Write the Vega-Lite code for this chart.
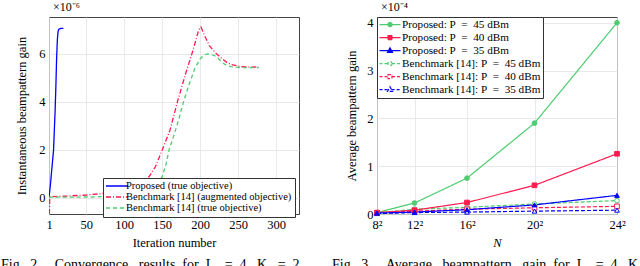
{
  "$schema": "https://vega.github.io/schema/vega-lite/v6.json",
  "padding": {"left": 0, "top": 0, "right": 0, "bottom": 0},
  "spacing": 30,
  "datasets": {
    "conv": [
      {"i": 1, "v": 0.0, "s": "Proposed (true objective)"},
      {"i": 3, "v": 0.6, "s": "Proposed (true objective)"},
      {"i": 5, "v": 1.3, "s": "Proposed (true objective)"},
      {"i": 7, "v": 2.0, "s": "Proposed (true objective)"},
      {"i": 9, "v": 3.6, "s": "Proposed (true objective)"},
      {"i": 10, "v": 4.6, "s": "Proposed (true objective)"},
      {"i": 11, "v": 5.8, "s": "Proposed (true objective)"},
      {"i": 12, "v": 6.6, "s": "Proposed (true objective)"},
      {"i": 13, "v": 6.95, "s": "Proposed (true objective)"},
      {"i": 14, "v": 7.03, "s": "Proposed (true objective)"},
      {"i": 16, "v": 7.06, "s": "Proposed (true objective)"},
      {"i": 20, "v": 7.07, "s": "Proposed (true objective)"},
      {"i": 1, "v": -1.5, "s": "Benchmark [14] (augmented objective)"},
      {"i": 2, "v": 0.05, "s": "Benchmark [14] (augmented objective)"},
      {"i": 20, "v": 0.07, "s": "Benchmark [14] (augmented objective)"},
      {"i": 50, "v": 0.12, "s": "Benchmark [14] (augmented objective)"},
      {"i": 70, "v": 0.18, "s": "Benchmark [14] (augmented objective)"},
      {"i": 100, "v": 0.3, "s": "Benchmark [14] (augmented objective)"},
      {"i": 115, "v": 0.45, "s": "Benchmark [14] (augmented objective)"},
      {"i": 125, "v": 0.65, "s": "Benchmark [14] (augmented objective)"},
      {"i": 133, "v": 0.9, "s": "Benchmark [14] (augmented objective)"},
      {"i": 141, "v": 1.3, "s": "Benchmark [14] (augmented objective)"},
      {"i": 150, "v": 2.0, "s": "Benchmark [14] (augmented objective)"},
      {"i": 160, "v": 2.8, "s": "Benchmark [14] (augmented objective)"},
      {"i": 170, "v": 4.0, "s": "Benchmark [14] (augmented objective)"},
      {"i": 180, "v": 5.1, "s": "Benchmark [14] (augmented objective)"},
      {"i": 190, "v": 6.1, "s": "Benchmark [14] (augmented objective)"},
      {"i": 198, "v": 7.0, "s": "Benchmark [14] (augmented objective)"},
      {"i": 201, "v": 7.12, "s": "Benchmark [14] (augmented objective)"},
      {"i": 206, "v": 6.75, "s": "Benchmark [14] (augmented objective)"},
      {"i": 212, "v": 6.35, "s": "Benchmark [14] (augmented objective)"},
      {"i": 220, "v": 6.05, "s": "Benchmark [14] (augmented objective)"},
      {"i": 227, "v": 5.85, "s": "Benchmark [14] (augmented objective)"},
      {"i": 235, "v": 5.65, "s": "Benchmark [14] (augmented objective)"},
      {"i": 240, "v": 5.57, "s": "Benchmark [14] (augmented objective)"},
      {"i": 253, "v": 5.47, "s": "Benchmark [14] (augmented objective)"},
      {"i": 265, "v": 5.45, "s": "Benchmark [14] (augmented objective)"},
      {"i": 277, "v": 5.46, "s": "Benchmark [14] (augmented objective)"},
      {"i": 1, "v": 0.0, "s": "Benchmark [14] (true objective)"},
      {"i": 2, "v": 0.03, "s": "Benchmark [14] (true objective)"},
      {"i": 60, "v": 0.04, "s": "Benchmark [14] (true objective)"},
      {"i": 100, "v": 0.08, "s": "Benchmark [14] (true objective)"},
      {"i": 130, "v": 0.2, "s": "Benchmark [14] (true objective)"},
      {"i": 140, "v": 0.4, "s": "Benchmark [14] (true objective)"},
      {"i": 145, "v": 0.6, "s": "Benchmark [14] (true objective)"},
      {"i": 150, "v": 0.9, "s": "Benchmark [14] (true objective)"},
      {"i": 155, "v": 1.4, "s": "Benchmark [14] (true objective)"},
      {"i": 159, "v": 2.0, "s": "Benchmark [14] (true objective)"},
      {"i": 166, "v": 2.67, "s": "Benchmark [14] (true objective)"},
      {"i": 172, "v": 3.3, "s": "Benchmark [14] (true objective)"},
      {"i": 178, "v": 4.0, "s": "Benchmark [14] (true objective)"},
      {"i": 185, "v": 4.7, "s": "Benchmark [14] (true objective)"},
      {"i": 193, "v": 5.4, "s": "Benchmark [14] (true objective)"},
      {"i": 200, "v": 5.8, "s": "Benchmark [14] (true objective)"},
      {"i": 205, "v": 5.95, "s": "Benchmark [14] (true objective)"},
      {"i": 209, "v": 6.0, "s": "Benchmark [14] (true objective)"},
      {"i": 215, "v": 5.97, "s": "Benchmark [14] (true objective)"},
      {"i": 221, "v": 5.9, "s": "Benchmark [14] (true objective)"},
      {"i": 229, "v": 5.64, "s": "Benchmark [14] (true objective)"},
      {"i": 235, "v": 5.52, "s": "Benchmark [14] (true objective)"},
      {"i": 240, "v": 5.47, "s": "Benchmark [14] (true objective)"},
      {"i": 252, "v": 5.43, "s": "Benchmark [14] (true objective)"},
      {"i": 265, "v": 5.43, "s": "Benchmark [14] (true objective)"},
      {"i": 277, "v": 5.43, "s": "Benchmark [14] (true objective)"}
    ],
    "gain": [
      {"N": 64, "v": 0.02, "s": "Benchmark [14]: P = 45 dBm"},
      {"N": 144, "v": 0.1, "s": "Benchmark [14]: P = 45 dBm"},
      {"N": 256, "v": 0.14, "s": "Benchmark [14]: P = 45 dBm"},
      {"N": 400, "v": 0.21, "s": "Benchmark [14]: P = 45 dBm"},
      {"N": 576, "v": 0.28, "s": "Benchmark [14]: P = 45 dBm"},
      {"N": 64, "v": 0.02, "s": "Benchmark [14]: P = 40 dBm"},
      {"N": 144, "v": 0.06, "s": "Benchmark [14]: P = 40 dBm"},
      {"N": 256, "v": 0.1, "s": "Benchmark [14]: P = 40 dBm"},
      {"N": 400, "v": 0.13, "s": "Benchmark [14]: P = 40 dBm"},
      {"N": 576, "v": 0.16, "s": "Benchmark [14]: P = 40 dBm"},
      {"N": 64, "v": 0.01, "s": "Benchmark [14]: P = 35 dBm"},
      {"N": 144, "v": 0.03, "s": "Benchmark [14]: P = 35 dBm"},
      {"N": 256, "v": 0.04, "s": "Benchmark [14]: P = 35 dBm"},
      {"N": 400, "v": 0.06, "s": "Benchmark [14]: P = 35 dBm"},
      {"N": 576, "v": 0.08, "s": "Benchmark [14]: P = 35 dBm"},
      {"N": 64, "v": 0.03, "s": "Proposed: P = 45 dBm"},
      {"N": 144, "v": 0.23, "s": "Proposed: P = 45 dBm"},
      {"N": 256, "v": 0.75, "s": "Proposed: P = 45 dBm"},
      {"N": 400, "v": 1.9, "s": "Proposed: P = 45 dBm"},
      {"N": 576, "v": 4.0, "s": "Proposed: P = 45 dBm"},
      {"N": 64, "v": 0.03, "s": "Proposed: P = 40 dBm"},
      {"N": 144, "v": 0.08, "s": "Proposed: P = 40 dBm"},
      {"N": 256, "v": 0.24, "s": "Proposed: P = 40 dBm"},
      {"N": 400, "v": 0.6, "s": "Proposed: P = 40 dBm"},
      {"N": 576, "v": 1.26, "s": "Proposed: P = 40 dBm"},
      {"N": 64, "v": 0.02, "s": "Proposed: P = 35 dBm"},
      {"N": 144, "v": 0.04, "s": "Proposed: P = 35 dBm"},
      {"N": 256, "v": 0.09, "s": "Proposed: P = 35 dBm"},
      {"N": 400, "v": 0.19, "s": "Proposed: P = 35 dBm"},
      {"N": 576, "v": 0.39, "s": "Proposed: P = 35 dBm"}
    ]
  },
  "hconcat": [
    {
      "width": 250,
      "height": 197,
      "title": {"text": "Fig.\u00a0\u00a02.\u00a0\u00a0\u00a0\u00a0Convergence\u00a0\u00a0\u00a0results\u00a0\u00a0for\u00a0\u00a0L\u00a0\u00a0\u00a0=\u00a0\u00a04,\u00a0\u00a0K\u00a0\u00a0\u00a0=\u00a0\u00a02", "orient": "bottom", "anchor": "start", "frame": "group", "dx": -48, "offset": 9},
      "layer": [
        {
          "data": {"name": "conv"},
          "mark": {"type": "line", "clip": true, "strokeWidth": 1.3},
          "encoding": {
            "x": {"field": "i", "type": "quantitative", "scale": {"domain": [1, 330], "nice": false, "zero": false},
                  "axis": {"values": [1, 50, 100, 150, 200, 250, 300], "title": "Iteration number"}},
            "y": {"field": "v", "type": "quantitative", "scale": {"domain": [-0.67, 7.54], "nice": false, "zero": false},
                  "axis": {"values": [0, 2, 4, 6], "title": "Instantaneous beampattern gain", "titlePadding": 10, "minExtent": 0}},
            "color": {"field": "s", "type": "nominal",
                      "scale": {"domain": ["Proposed (true objective)", "Benchmark [14] (augmented objective)", "Benchmark [14] (true objective)"],
                                "range": ["#0000ff", "#ff1a4f", "#4dcc70"]},
                      "legend": {"orient": "none", "legendX": 54, "legendY": 161, "title": null, "symbolType": "M-2.2,0L2.2,0", "symbolSize": 100, "symbolStrokeWidth": 1.5, "symbolOffset": 5, "labelFont": "Liberation Serif", "labelFontSize": 10.5, "labelColor": "black", "strokeColor": "#333333", "fillColor": "white", "padding": 3, "rowPadding": 0, "clipHeight": 10, "labelLimit": 400, "labelOffset": 3}},
            "strokeDash": {"field": "s", "type": "nominal",
                           "scale": {"domain": ["Proposed (true objective)", "Benchmark [14] (augmented objective)", "Benchmark [14] (true objective)"],
                                     "range": [[1, 0], [5, 2, 1, 2], [4, 3]]},
                           "legend": {"orient": "none", "legendX": 54, "legendY": 161, "title": null, "symbolType": "M-2.2,0L2.2,0", "symbolSize": 100, "symbolStrokeWidth": 1.5, "symbolOffset": 5, "labelFont": "Liberation Serif", "labelFontSize": 10.5, "labelColor": "black", "strokeColor": "#333333", "fillColor": "white", "padding": 3, "rowPadding": 0, "clipHeight": 10, "labelLimit": 400, "labelOffset": 3}}
          }
        },
        {
          "data": {"values": [{"t": "×10⁻⁶", "i": 1, "v": 7.54}]},
          "mark": {"type": "text", "align": "left", "baseline": "middle", "dx": 4, "dy": -10, "fontSize": 12},
          "encoding": {"x": {"field": "i", "type": "quantitative"}, "y": {"field": "v", "type": "quantitative"}, "text": {"field": "t"}}
        }
      ]
    },
    {
      "width": 240,
      "height": 197,
      "title": {"text": "Fig.\u00a0\u00a03.\u00a0\u00a0\u00a0\u00a0Average\u00a0\u00a0\u00a0beampattern\u00a0\u00a0\u00a0gain\u00a0\u00a0for\u00a0\u00a0L\u00a0\u00a0\u00a0=\u00a0\u00a04,\u00a0\u00a0K\u00a0\u00a0\u00a0=", "orient": "bottom", "anchor": "start", "frame": "group", "dx": -45, "offset": 9},
      "resolve": {"scale": {"stroke": "independent", "fill": "independent", "strokeDash": "independent", "shape": "independent"}},
      "layer": [
        {
          "data": {"name": "gain"},
          "mark": {"type": "line", "strokeWidth": 1.2},
          "encoding": {
            "x": {"field": "N", "type": "quantitative", "scale": {"domain": [64, 576], "nice": false, "zero": false},
                  "axis": {"values": [64, 144, 256, 400, 576], "title": "N", "titleFontStyle": "italic",
                           "labelExpr": "datum.value == 64 ? '8²' : datum.value == 144 ? '12²' : datum.value == 256 ? '16²' : datum.value == 400 ? '20²' : '24²'"}},
            "y": {"field": "v", "type": "quantitative", "scale": {"domain": [0, 4.12], "nice": false},
                  "axis": {"values": [0, 1, 2, 3, 4], "title": "Average beampattern gain", "titlePadding": 8, "minExtent": 0}},
            "stroke": {"field": "s", "type": "nominal", "legend": null,
                       "scale": {"domain": ["Proposed: P = 45 dBm", "Proposed: P = 40 dBm", "Proposed: P = 35 dBm", "Benchmark [14]: P = 45 dBm", "Benchmark [14]: P = 40 dBm", "Benchmark [14]: P = 35 dBm"],
                                 "range": ["#4dcc70", "#ff1a4f", "#0000ff", "#4dcc70", "#ff1a4f", "#0000ff"]}},
            "strokeDash": {"field": "s", "type": "nominal", "legend": null,
                           "scale": {"domain": ["Proposed: P = 45 dBm", "Proposed: P = 40 dBm", "Proposed: P = 35 dBm", "Benchmark [14]: P = 45 dBm", "Benchmark [14]: P = 40 dBm", "Benchmark [14]: P = 35 dBm"],
                                     "range": [[1, 0], [1, 0], [1, 0], [4, 2], [4, 2], [4, 2]]}}
          }
        },
        {
          "data": {"name": "gain"},
          "mark": {"type": "point", "filled": true, "opacity": 1, "size": 22, "strokeWidth": 1},
          "encoding": {
            "x": {"field": "N", "type": "quantitative"},
            "y": {"field": "v", "type": "quantitative"},
            "stroke": {"field": "s", "type": "nominal", "legend": null,
                       "scale": {"domain": ["Proposed: P = 45 dBm", "Proposed: P = 40 dBm", "Proposed: P = 35 dBm", "Benchmark [14]: P = 45 dBm", "Benchmark [14]: P = 40 dBm", "Benchmark [14]: P = 35 dBm"],
                                 "range": ["#4dcc70", "#ff1a4f", "#0000ff", "#4dcc70", "#ff1a4f", "#0000ff"]}},
            "fill": {"field": "s", "type": "nominal", "legend": null,
                     "scale": {"domain": ["Proposed: P = 45 dBm", "Proposed: P = 40 dBm", "Proposed: P = 35 dBm", "Benchmark [14]: P = 45 dBm", "Benchmark [14]: P = 40 dBm", "Benchmark [14]: P = 35 dBm"],
                               "range": ["#4dcc70", "#ff1a4f", "#0000ff", "white", "white", "white"]}},
            "shape": {"field": "s", "type": "nominal", "legend": null,
                      "scale": {"domain": ["Proposed: P = 45 dBm", "Proposed: P = 40 dBm", "Proposed: P = 35 dBm", "Benchmark [14]: P = 45 dBm", "Benchmark [14]: P = 40 dBm", "Benchmark [14]: P = 35 dBm"],
                                "range": ["circle", "square", "triangle-up", "circle", "square", "triangle-up"]}}
          }
        },
        {
          "data": {"name": "gain"},
          "transform": [{"filter": "false"}],
          "mark": {"type": "point", "filled": true, "opacity": 1, "size": 100, "strokeWidth": 1.2},
          "encoding": {
            "x": {"field": "N", "type": "quantitative"},
            "y": {"field": "v", "type": "quantitative"},
            "stroke": {"field": "s", "type": "nominal",
                       "scale": {"domain": ["Proposed: P = 45 dBm", "Proposed: P = 40 dBm", "Proposed: P = 35 dBm", "Benchmark [14]: P = 45 dBm", "Benchmark [14]: P = 40 dBm", "Benchmark [14]: P = 35 dBm"],
                                 "range": ["#4dcc70", "#ff1a4f", "#0000ff", "#4dcc70", "#ff1a4f", "#0000ff"]},
                       "legend": {"orient": "none", "legendX": 0, "legendY": 0, "title": null, "symbolSize": 100, "symbolStrokeWidth": 1.2, "symbolOffset": 5, "labelFont": "Liberation Serif", "labelFontSize": 11.2, "labelColor": "black", "strokeColor": "#333333", "fillColor": "white", "padding": 2, "rowPadding": 0, "clipHeight": 11.2, "labelLimit": 400, "labelOffset": 6, "labelExpr": "replace(datum.label, ' = ', '\u00a0\u00a0=\u00a0\u00a0')"}},
            "fill": {"field": "s", "type": "nominal",
                     "scale": {"domain": ["Proposed: P = 45 dBm", "Proposed: P = 40 dBm", "Proposed: P = 35 dBm", "Benchmark [14]: P = 45 dBm", "Benchmark [14]: P = 40 dBm", "Benchmark [14]: P = 35 dBm"],
                               "range": ["#4dcc70", "#ff1a4f", "#0000ff", "white", "white", "white"]},
                     "legend": {"orient": "none", "legendX": 0, "legendY": 0, "title": null, "symbolSize": 100, "symbolStrokeWidth": 1.2, "symbolOffset": 5, "labelFont": "Liberation Serif", "labelFontSize": 11.2, "labelColor": "black", "strokeColor": "#333333", "fillColor": "white", "padding": 2, "rowPadding": 0, "clipHeight": 11.2, "labelLimit": 400, "labelOffset": 6, "labelExpr": "replace(datum.label, ' = ', '\u00a0\u00a0=\u00a0\u00a0')"}},
            "strokeDash": {"field": "s", "type": "nominal",
                           "scale": {"domain": ["Proposed: P = 45 dBm", "Proposed: P = 40 dBm", "Proposed: P = 35 dBm", "Benchmark [14]: P = 45 dBm", "Benchmark [14]: P = 40 dBm", "Benchmark [14]: P = 35 dBm"],
                                     "range": [[1, 0], [1, 0], [1, 0], [3, 2], [3, 2], [3, 2]]},
                           "legend": {"orient": "none", "legendX": 0, "legendY": 0, "title": null, "symbolSize": 100, "symbolStrokeWidth": 1.2, "symbolOffset": 5, "labelFont": "Liberation Serif", "labelFontSize": 11.2, "labelColor": "black", "strokeColor": "#333333", "fillColor": "white", "padding": 2, "rowPadding": 0, "clipHeight": 11.2, "labelLimit": 400, "labelOffset": 6, "labelExpr": "replace(datum.label, ' = ', '\u00a0\u00a0=\u00a0\u00a0')"}},
            "shape": {"field": "s", "type": "nominal",
                      "scale": {"domain": ["Proposed: P = 45 dBm", "Proposed: P = 40 dBm", "Proposed: P = 35 dBm", "Benchmark [14]: P = 45 dBm", "Benchmark [14]: P = 40 dBm", "Benchmark [14]: P = 35 dBm"],
                                "range": [
                                  "M-2.1,0L-0.42,0M0.42,0L2.1,0M0.42,0A0.42,0.42,0,1,1,-0.42,0A0.42,0.42,0,1,1,0.42,0Z",
                                  "M-2.1,0L-0.4,0M0.4,0L2.1,0M-0.4,-0.4L0.4,-0.4L0.4,0.4L-0.4,0.4Z",
                                  "M-2.1,0L-0.32,0M0.32,0L2.1,0M0,-0.55L0.5,0.36L-0.5,0.36Z",
                                  "M-2.1,0L-0.42,0M0.42,0L2.1,0M0.42,0A0.42,0.42,0,1,1,-0.42,0A0.42,0.42,0,1,1,0.42,0Z",
                                  "M-2.1,0L-0.4,0M0.4,0L2.1,0M-0.4,-0.4L0.4,-0.4L0.4,0.4L-0.4,0.4Z",
                                  "M-2.1,0L-0.32,0M0.32,0L2.1,0M0,-0.55L0.5,0.36L-0.5,0.36Z"
                                ]},
                      "legend": {"orient": "none", "legendX": 0, "legendY": 0, "title": null, "symbolSize": 100, "symbolStrokeWidth": 1.2, "symbolOffset": 5, "labelFont": "Liberation Serif", "labelFontSize": 11.2, "labelColor": "black", "strokeColor": "#333333", "fillColor": "white", "padding": 2, "rowPadding": 0, "clipHeight": 11.2, "labelLimit": 400, "labelOffset": 6, "labelExpr": "replace(datum.label, ' = ', '\u00a0\u00a0=\u00a0\u00a0')"}}
          }
        },
        {
          "data": {"values": [{"t": "×10⁻⁴", "N": 64, "v": 4.12}]},
          "mark": {"type": "text", "align": "left", "baseline": "middle", "dx": 4, "dy": -10, "fontSize": 12},
          "encoding": {"x": {"field": "N", "type": "quantitative"}, "y": {"field": "v", "type": "quantitative"}, "text": {"field": "t"}}
        }
      ]
    }
  ],
  "config": {
    "font": "Liberation Serif",
    "view": {"stroke": "#444444", "strokeWidth": 1},
    "title": {"font": "Liberation Serif", "fontSize": 14, "fontWeight": "normal", "color": "black"},
    "text": {"font": "Liberation Serif", "color": "black"},
    "legend": {"labelFont": "Liberation Serif", "labelColor": "black"},
    "axis": {"labelFont": "Liberation Serif", "titleFont": "Liberation Serif", "labelFontSize": 12.5, "titleFontSize": 12.5,
             "titleFontWeight": "normal", "labelColor": "black", "titleColor": "black", "grid": true, "gridColor": "#e3e3e3",
             "gridWidth": 0.8, "domain": false, "ticks": false, "labelPadding": 4, "labelFlush": false, "labelOverlap": false, "titlePadding": 6}
  }
}
